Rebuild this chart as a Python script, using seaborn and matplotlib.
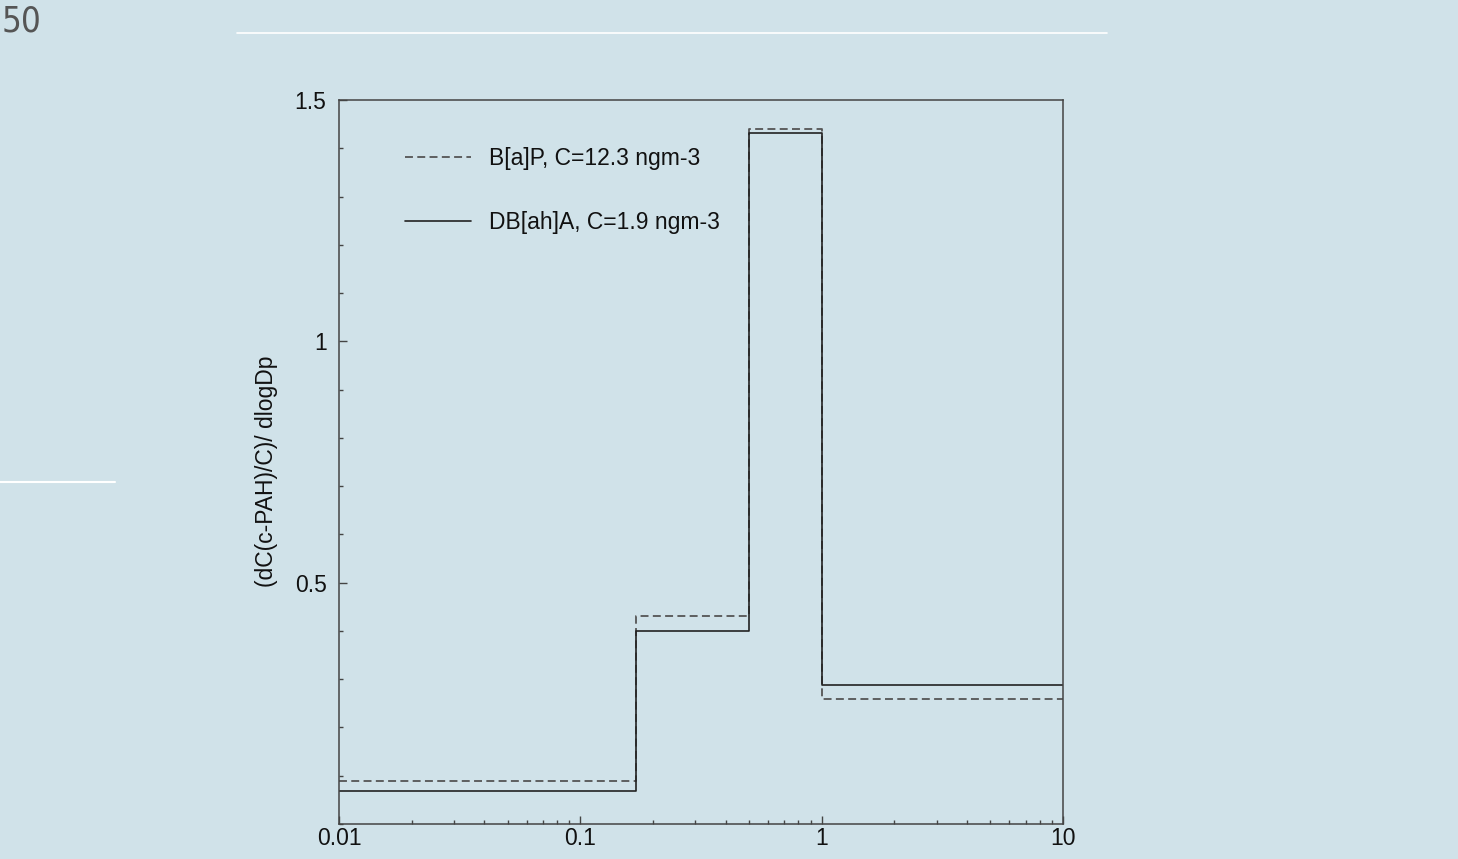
import numpy as np
import pandas as pd
import matplotlib
matplotlib.use("Agg")
import matplotlib.pyplot as plt
from matplotlib.lines import Line2D
from matplotlib.ticker import MultipleLocator, FixedLocator, NullFormatter, LogLocator
import seaborn as sns

# === Data ===
bin_edges = [0.01, 0.17, 0.5, 1.0, 10.0]
bap_values = [0.089, 0.43, 1.44, 0.259]      # B[a]P, dashed
dbaha_values = [0.068, 0.40, 1.432, 0.288]   # DB[ah]A, solid
bap_label = "B[a]P, C=12.3 ngm-3"
dbaha_label = "DB[ah]A, C=1.9 ngm-3"
x_ticks = [0.01, 0.1, 1, 10]
x_tick_labels = ["0.01", "0.1", "1", "10"]
y_ticks = [0.5, 1.0, 1.5]
y_tick_labels = ["0.5", "1", "1.5"]
y_label = "(dC(c-PAH)/C)/ dlogDp"

# === Setup ===
bg = "#d0e2e9"
fs = 16.5
sns.set_theme(style="ticks")
plt.rcParams["font.family"] = ["Liberation Sans", "DejaVu Sans"]
plt.rcParams["axes.facecolor"] = bg
plt.rcParams["figure.facecolor"] = bg
plt.rcParams["text.color"] = "#111111"

fig = plt.figure(figsize=(14.58, 8.59), dpi=100)
ax = fig.add_axes([339 / 1458, 1 - 824 / 859, 724 / 1458, 724 / 859])


def step_frame(values):
    # repeat last value so steps-post closes the final bin
    return pd.DataFrame({"x": bin_edges, "y": list(values) + [values[-1]]})


sns.lineplot(data=step_frame(bap_values), x="x", y="y", ax=ax,
             drawstyle="steps-post", color="#555555", linewidth=1.3,
             linestyle=(0, (4.4, 2.4)), label=bap_label)
sns.lineplot(data=step_frame(dbaha_values), x="x", y="y", ax=ax,
             drawstyle="steps-post", color="#222222", linewidth=1.2,
             label=dbaha_label)

# === Axes ===
ax.set_xscale("log")
ax.set_xlim(0.01, 10)
ax.set_ylim(0, 1.5)
ax.xaxis.set_major_locator(FixedLocator(x_ticks))
ax.set_xticklabels(x_tick_labels)
ax.xaxis.set_minor_locator(LogLocator(base=10, subs=np.arange(2, 10)))
ax.xaxis.set_minor_formatter(NullFormatter())
ax.yaxis.set_major_locator(FixedLocator(y_ticks))
ax.set_yticklabels(y_tick_labels)
ax.yaxis.set_minor_locator(MultipleLocator(0.1))

ax.tick_params(which="both", direction="in", colors="#444444",
               labelcolor="#111111", labelsize=fs, width=1)
ax.tick_params(which="major", length=6)
ax.tick_params(which="minor", length=3)
ax.tick_params(axis="x", which="major", pad=2)
ax.tick_params(axis="y", which="major", pad=9)
for s in ax.spines.values():
    s.set_color("#444444")
    s.set_linewidth(1.1)

ax.set_xlabel("")
ax.set_ylabel(y_label, fontsize=fs, color="#111111")
ax.yaxis.set_label_coords(-0.0845, 0.487)

leg = ax.legend(loc="upper left", bbox_to_anchor=(0.091, 0.935), frameon=False,
                fontsize=fs, handlelength=2.9, handletextpad=0.75,
                labelspacing=1.8, borderpad=0, borderaxespad=0)
for t in leg.get_texts():
    t.set_color("#111111")

# === Page decorations ===
fig.text(2 / 1458, 1 - 5 / 859, "50", fontsize=25, color="#555555",
         va="top", ha="left", family="DejaVu Sans", fontstretch="condensed")
fig.add_artist(Line2D([237 / 1458, 1107 / 1458], [1 - 33 / 859, 1 - 33 / 859],
                      color="white", linewidth=1.2, transform=fig.transFigure))
fig.add_artist(Line2D([0, 115 / 1458], [1 - 482 / 859, 1 - 482 / 859],
                      color="white", linewidth=1.5, transform=fig.transFigure))

fig.savefig("out.png", dpi=100, facecolor=bg)
plt.close(fig)
